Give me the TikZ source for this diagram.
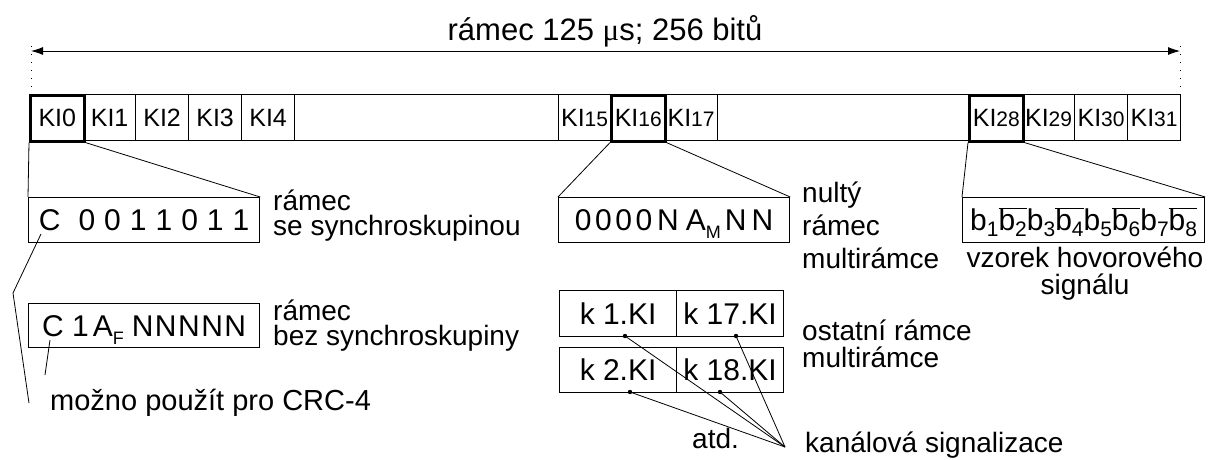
\documentclass[tikz,border=0pt]{standalone}
\usepackage{fontspec}
\setmainfont{Liberation Sans}
\newfontfamily\mufont{Liberation Serif}
\usetikzlibrary{arrows.meta}
\newcommand\fs[1]{\fontsize{#1}{#1}\selectfont}
\newcommand\lowsub[1]{\raisebox{-8pt}{\fs{18}#1}}
\newcommand\bsub[1]{b\raisebox{-6pt}{\fs{21}#1}}
\newcommand\bbar[1]{$\overline{\mbox{\bsub{#1}}}$}
\newcommand\gp[1]{\kern#1pt\relax}
\tikzset{
  slot/.style={draw, line width=1.2pt, minimum height=46pt, inner sep=0pt, anchor=north west, font=\fs{25}},
  thickslot/.style={slot, line width=2.6pt},
  dbox/.style={draw, line width=1.2pt, inner sep=0pt, anchor=north west, font=\fs{30}, text height=21.5pt, text depth=0pt},
  lbl/.style={align=left, anchor=base west, inner sep=0pt},
  conn/.style={line width=0.8pt},
  dotted line/.style={line width=1pt, dash pattern=on 1pt off 7pt},
}
\begin{document}
\begin{tikzpicture}[x=1pt,y=-1pt]
\useasboundingbox (0,0) rectangle (1209,459);
% title and arrow
\node[anchor=base, inner sep=0pt, font=\fs{31}] (title) at (605,40) {rámec 125 {\mufont μ}s; 256 bitů};
\coordinate (arrL) at (31,51);
\coordinate (arrR) at (1180,51);
\draw[line width=0.9pt, {Latex[length=12pt,width=8pt]}-{Latex[length=12pt,width=8pt]}] (arrL) -- (arrR);
\coordinate (dL1) at (31,46); \coordinate (dL2) at (31,88);
\coordinate (dR1) at (1180,46); \coordinate (dR2) at (1180,88);
\draw[dotted line] (dL1) -- (dL2);
\draw[dotted line] (dR1) -- (dR2);
% frame
\node[draw, line width=1.2pt, minimum width=1151pt, minimum height=46pt, inner sep=0pt, anchor=north west] (frame) at (29,94) {};
\node[slot, minimum width=52pt] (ki1) at (83,94) {KI1};
\node[slot, minimum width=53pt] (ki2) at (135,94) {KI2};
\node[slot, minimum width=53pt] (ki3) at (188,94) {KI3};
\node[slot, minimum width=53pt] (ki4) at (241,94) {KI4};
\node[slot, minimum width=52pt] (ki15) at (558,94) {KI{\fs{21}15}};
\node[slot, minimum width=53pt] (ki17) at (664,94) {KI{\fs{21}17}};
\node[slot, minimum width=52pt] (ki29) at (1022,94) {KI{\fs{21}29}};
\node[slot, minimum width=53pt] (ki30) at (1074,94) {KI{\fs{21}30}};
\node[slot, minimum width=53pt] (ki31) at (1127,94) {KI{\fs{21}31}};
\node[thickslot, minimum width=54pt] (ki0) at (29,94) {KI0};
\node[thickslot, minimum width=54pt] (ki16) at (610,94) {KI{\fs{21}16}};
\node[thickslot, minimum width=54pt] (ki28) at (968,94) {KI{\fs{21}28}};
% detail boxes
\node[dbox, minimum width=231pt, minimum height=45pt] (b0) at (28,197)
  {C\gp{18}0\gp{9}0\gp{9}1\gp{9}1\gp{9}0\gp{9}1\gp{9}1};
\node[dbox, minimum width=231pt, minimum height=44pt] (b0b) at (28,303)
  {C 1\gp{4}A\lowsub{F}\gp{8}N\gp{1.5}N\gp{1.5}N\gp{1.5}N\gp{1.5}N};
\node[dbox, minimum width=231pt, minimum height=45pt] (b16) at (558,197)
  {0\gp{3.5}0\gp{3.5}0\gp{3.5}0\gp{5}N\gp{7}A\lowsub{M}\gp{4}N\gp{5}N};
\node[dbox, minimum width=117pt, minimum height=46pt] (k1) at (559,290) {k 1.KI};
\node[dbox, minimum width=107pt, minimum height=46pt] (k17) at (676,290) {k 17.KI};
\node[dbox, minimum width=117pt, minimum height=45pt] (k2) at (559,347) {k 2.KI};
\node[dbox, minimum width=107pt, minimum height=45pt] (k18) at (676,347) {k 18.KI};
\node[dbox, minimum width=242pt, minimum height=45pt] (b28) at (962,197)
  {\bsub{1}\bbar{2}\bsub{3}\bbar{4}\bsub{5}\bbar{6}\bsub{7}\bbar{8}};
% zoom connectors
\draw[conn] (ki0.south west) -- (b0.north west);
\draw[conn] (ki0.south east) -- (b0.north east);
\draw[conn] (ki16.south west) -- (b16.north west);
\draw[conn] (ki16.south east) -- (b16.north east);
\draw[conn] (ki28.south west) -- (b28.north west);
\draw[conn] (ki28.south east) -- (b28.north east);
% labels (base anchor = baseline of last line)
\node[lbl, font=\fontsize{28}{25}\selectfont] (lA) at (273,235) {rámec\\se synchroskupinou};
\node[lbl, font=\fontsize{28}{25}\selectfont] (lB) at (273,345) {rámec\\bez synchroskupiny};
\node[lbl, font=\fontsize{28}{33}\selectfont] (lC) at (802,268) {nultý\\rámec\\multirámce};
\node[lbl, font=\fontsize{28}{27}\selectfont] (lD) at (802,367) {ostatní rámce\\multirámce};
\node[align=center, anchor=base, inner sep=0pt, font=\fontsize{28}{27}\selectfont] (lE) at (1085,294) {vzorek hovorového\\signálu};
\node[lbl, font=\fs{29}] (crc) at (50,410) {možno použít pro CRC-4};
\node[lbl, font=\fs{28}] (atd) at (692,448) {atd.};
\node[lbl, font=\fs{28}] (kan) at (805,452) {kanálová signalizace};
% CRC pointers
\coordinate (cC) at (41,234);
\coordinate (cK) at (13,293);
\coordinate (cE) at (29,403);
\draw[conn] (cC) -- (cK) -- (cE);
\coordinate (cC2) at (50,340);
\coordinate (cE2) at (45,375);
\draw[conn] (cC2) -- (cE2);
% signalling pointers
\coordinate (d1) at (625,336);
\coordinate (d17) at (736,336);
\coordinate (d2) at (630,392);
\coordinate (d18) at (720,392);
\coordinate (sig) at (785,447);
\foreach \d in {d1,d17,d2,d18} {
  \draw[conn] (sig) -- (\d);
  \fill (\d) circle (2.2pt);
}
\end{tikzpicture}
\end{document}
